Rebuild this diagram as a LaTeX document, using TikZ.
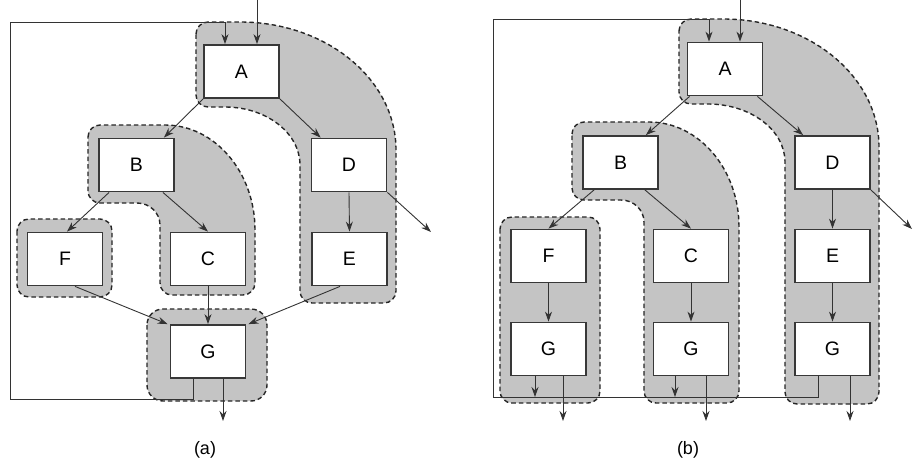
\documentclass[tikz,border=0pt]{standalone}
\usepackage{fontspec}
\setmainfont{Liberation Sans}
\usetikzlibrary{arrows.meta}
\tikzset{
  box/.style={draw=black!78, fill=white, line width=1.8pt, minimum width=75pt, minimum height=53pt, inner sep=0pt, font=\fontsize{19.5}{22}\selectfont},
  region/.style={fill=black!23, draw=black!85, line width=1.4pt, dash pattern=on 4.5pt off 3pt},
  arr/.style={draw=black!80, line width=0.9pt, -{Stealth[length=10pt,width=7pt]}},
  lab/.style={font=\fontsize{18}{21}\selectfont, inner sep=0pt}
}
\begin{document}
\begin{tikzpicture}[x=1pt,y=-1pt]
\useasboundingbox (0,0) rectangle (914,463);
% ---------------- (a) regions
\path[region] (196,34) .. controls (196,27.4) and (201.4,22) .. (208,22) -- (240,22) .. controls (326.2,22) and (396,79.3) .. (396,150) -- (396,291) .. controls (396,297.6) and (390.6,303) .. (384,303) -- (312,303) .. controls (305.4,303) and (300,297.6) .. (300,291) -- (300,165) .. controls (300,133) and (266.4,107) .. (225,107) -- (208,107) .. controls (201.4,107) and (196,101.6) .. (196,95) -- cycle;
\path[region] (88,137) .. controls (88,130.4) and (93.4,125) .. (100,125) -- (165,125) .. controls (214.7,125) and (255,172) .. (255,230) -- (255,283) .. controls (255,289.6) and (249.6,295) .. (243,295) -- (172,295) .. controls (165.4,295) and (160,289.6) .. (160,283) -- (160,225) .. controls (160,212.8) and (149.7,203) .. (137,203) -- (100,203) .. controls (93.4,203) and (88,197.6) .. (88,191) -- cycle;
\path[region, rounded corners=12pt] (17,219) rectangle (112,297);
\path[region, rounded corners=16pt] (147,309) rectangle (267,401);
% ---------------- (b) regions
\path[region] (679,31) .. controls (679,24.4) and (684.4,19) .. (691,19) -- (723,19) .. controls (809.2,19) and (879,76.3) .. (879,147) -- (879,392) .. controls (879,398.6) and (873.6,404) .. (867,404) -- (797,404) .. controls (790.4,404) and (785,398.6) .. (785,392) -- (785,162) .. controls (785,130) and (750.5,104) .. (708,104) -- (691,104) .. controls (684.4,104) and (679,98.6) .. (679,92) -- cycle;
\path[region] (572,134) .. controls (572,127.4) and (577.4,122) .. (584,122) -- (649,122) .. controls (698.7,122) and (739,169) .. (739,227) -- (739,391) .. controls (739,397.6) and (733.6,403) .. (727,403) -- (656,403) .. controls (649.4,403) and (644,397.6) .. (644,391) -- (644,222) .. controls (644,209.8) and (633.7,200) .. (621,200) -- (584,200) .. controls (577.4,200) and (572,194.6) .. (572,188) -- cycle;
\path[region, rounded corners=12pt] (500,217) rectangle (600,403);
% ---------------- (a) nodes
\node[box] (Aa) at (241.5,71.5) {A};
\node[box] (Ba) at (136.5,165) {B};
\node[box] (Da) at (349,165) {D};
\node[box] (Fa) at (65,259) {F};
\node[box] (Ca) at (208,259) {C};
\node[box] (Ea) at (349.5,259) {E};
\node[box] (Ga) at (208,351.5) {G};
% ---------------- (b) nodes
\node[box] (Ab) at (725,69) {A};
\node[box] (Bb) at (620.5,162.5) {B};
\node[box] (Db) at (832.5,162.5) {D};
\node[box] (Fb) at (548.5,256) {F};
\node[box] (Cb) at (691,256) {C};
\node[box] (Eb) at (832.5,256) {E};
\node[box] (G1b) at (548.5,349) {G};
\node[box] (G2b) at (691,349) {G};
\node[box] (G3b) at (832.5,349) {G};
% ---------------- (a) coordinates
\coordinate (La1) at (193,399);
\coordinate (La2) at (10,399);
\coordinate (La3) at (10,22);
\coordinate (La4) at (225,22);
\coordinate (ina) at (257,0);
\coordinate (exa) at (431,232);
\coordinate (outa) at (223,421);
% ---------------- (a) connectors
\draw[arr] (Ga.south -| La1) -- (La1) -- (La2) -- (La3) -- (La4) -- (La4 |- Aa.north);
\draw[arr] (ina) -- (ina |- Aa.north);
\draw[arr] (Aa.south west) -- ([xshift=-11pt]Ba.north east);
\draw[arr] (Aa.south east) -- ([xshift=10pt]Da.north west);
\draw[arr] ([xshift=11pt]Ba.south west) -- ([xshift=2pt]Fa.north);
\draw[arr] ([xshift=-12pt]Ba.south east) -- (Ca.north);
\draw[arr] (Da.south) -- (Ea.north);
\draw[arr] (Da.south east) -- (exa);
\draw[arr] ([xshift=10pt]Fa.south) -- ([xshift=-2pt]Ga.north west);
\draw[arr] (Ca.south) -- (Ga.north);
\draw[arr] ([xshift=-9.5pt]Ea.south) -- ([xshift=2pt]Ga.north east);
\draw[arr] (outa |- Ga.south) -- (outa);
% ---------------- (b) coordinates
\coordinate (Lb1) at (818,397);
\coordinate (Lb2) at (493,397);
\coordinate (Lb3) at (493,19);
\coordinate (Lb4) at (709,19);
\coordinate (inb) at (740,0);
\coordinate (exb) at (912,229);
\coordinate (g1l) at (535,397);
\coordinate (g2l) at (675,397);
\coordinate (out1) at (563,421);
\coordinate (out2) at (706,421);
\coordinate (out3) at (850,421);
% ---------------- (b) connectors
\draw[arr] (G3b.south -| Lb1) -- (Lb1) -- (Lb2) -- (Lb3) -- (Lb4) -- (Lb4 |- Ab.north);
\draw[arr] (inb) -- (inb |- Ab.north);
\draw[arr] ([xshift=3pt]Ab.south west) -- ([xshift=-13pt]Bb.north east);
\draw[arr] ([xshift=-6pt]Ab.south east) -- ([xshift=9pt]Db.north west);
\draw[arr] ([xshift=12pt]Bb.south west) -- (Fb.north);
\draw[arr] ([xshift=-14pt]Bb.south east) -- (Cb.north);
\draw[arr] (Db.south) -- (Eb.north);
\draw[arr] (Db.south east) -- (exb);
\draw[arr] (Eb.south) -- (G3b.north);
\draw[arr] (Fb.south) -- (G1b.north);
\draw[arr] (Cb.south) -- (G2b.north);
\draw[arr] (g1l |- G1b.south) -- (g1l);
\draw[arr] (g2l |- G2b.south) -- (g2l);
\draw[arr] (out1 |- G1b.south) -- (out1);
\draw[arr] (out2 |- G2b.south) -- (out2);
\draw[arr] (out3 |- G3b.south) -- (out3);
% ---------------- labels
\node[lab] (la) at (205,450) {(a)};
\node[lab] (lb) at (688,450) {(b)};
\end{tikzpicture}
\end{document}
